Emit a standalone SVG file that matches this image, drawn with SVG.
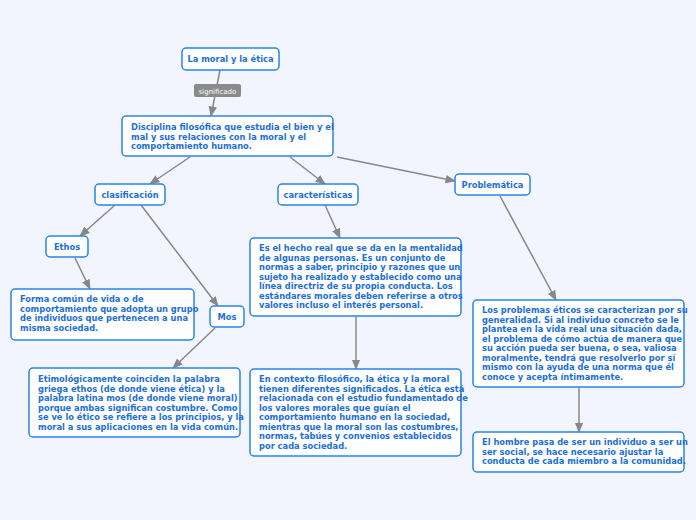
<svg xmlns="http://www.w3.org/2000/svg" width="696" height="520" viewBox="0 0 696 520">
<style>
.n{fill:#fff;stroke:#2a84e6;stroke-width:1.5}
.t{font-family:"DejaVu Sans",sans-serif;font-weight:bold;font-size:8.3px;fill:#1d6fd6}
.c{fill:none;stroke:#888;stroke-width:1.5;marker-end:url(#a)}
</style>
<defs><marker id="a" viewBox="0 0 10 10" refX="9" refY="5" markerWidth="7" markerHeight="7" orient="auto"><path d="M0,1L10,5L0,9z" fill="#888"/></marker></defs>
<rect width="696" height="520" fill="#f2f5fd"/>
<g id="connectors">
<path class="c" d="M220,70L211,116"/>
<path class="c" d="M190,157L150,184"/>
<path class="c" d="M290,157L325,184"/>
<path class="c" d="M337,157L455,181"/>
<path class="c" d="M115,205L80,236"/>
<path class="c" d="M141,205L218,306"/>
<path class="c" d="M75,258L90,289"/>
<path class="c" d="M215,328L173,368"/>
<path class="c" d="M325,205L340,238"/>
<path class="c" d="M356,317L356,369"/>
<path class="c" d="M500,196L556,300"/>
<path class="c" d="M579,388L579,432"/>
</g>
<g id="lbl"><rect x="194" y="84" width="47" height="13" rx="2" fill="#8a8a8a"/><text x="217.5" y="93.5" text-anchor="middle" font-family="DejaVu Sans,sans-serif" font-size="7px" fill="#fff">significado</text></g>
<g id="n1"><rect class="n" x="182" y="48" width="97" height="22" rx="4"/><text class="t" x="230.5" y="62" text-anchor="middle">La moral y la ética</text></g>
<g id="n2"><rect class="n" x="122" y="116" width="211" height="40" rx="4"/><text class="t" x="131"><tspan x="131" y="130">Disciplina filosófica que estudia el bien y el</tspan><tspan x="131" y="139.5">mal y sus relaciones con la moral y el</tspan><tspan x="131" y="149">comportamiento humano.</tspan></text></g>
<g id="n3"><rect class="n" x="95" y="184" width="70" height="21" rx="4"/><text class="t" x="130" y="198" text-anchor="middle">clasificación</text></g>
<g id="n4"><rect class="n" x="278" y="184" width="80" height="21" rx="4"/><text class="t" x="318" y="198" text-anchor="middle">características</text></g>
<g id="n5"><rect class="n" x="455" y="174" width="75" height="21" rx="4"/><text class="t" x="492.5" y="188" text-anchor="middle">Problemática</text></g>
<g id="n6"><rect class="n" x="46" y="236" width="42" height="21" rx="4"/><text class="t" x="67" y="250" text-anchor="middle">Ethos</text></g>
<g id="n7"><rect class="n" x="11" y="289" width="183" height="51" rx="4"/><text class="t"><tspan x="20" y="302">Forma común de vida o de</tspan><tspan x="20" y="311.5">comportamiento que adopta un grupo</tspan><tspan x="20" y="321">de individuos que pertenecen a una</tspan><tspan x="20" y="330.5">misma sociedad.</tspan></text></g>
<g id="n8"><rect class="n" x="210" y="306" width="34" height="21" rx="4"/><text class="t" x="227" y="320" text-anchor="middle">Mos</text></g>
<g id="n9"><rect class="n" x="29" y="368" width="211" height="69" rx="4"/><text class="t"><tspan x="38" y="382">Etimológicamente coinciden la palabra</tspan><tspan x="38" y="391.5">griega ethos (de donde viene ética) y la</tspan><tspan x="38" y="401">palabra latina mos (de donde viene moral)</tspan><tspan x="38" y="410.5">porque ambas significan costumbre. Como</tspan><tspan x="38" y="420">se ve lo ético se refiere a los principios, y la</tspan><tspan x="38" y="429.5">moral a sus aplicaciones en la vida común.</tspan></text></g>
<g id="n10"><rect class="n" x="250" y="238" width="211" height="78" rx="4"/><text class="t"><tspan x="259" y="251">Es el hecho real que se da en la mentalidad</tspan><tspan x="259" y="260.5">de algunas personas. Es un conjunto de</tspan><tspan x="259" y="270">normas a saber, principio y razones que un</tspan><tspan x="259" y="279.5">sujeto ha realizado y establecido como una</tspan><tspan x="259" y="289">línea directriz de su propia conducta. Los</tspan><tspan x="259" y="298.5">estándares morales deben referirse a otros</tspan><tspan x="259" y="308">valores incluso el interés personal.</tspan></text></g>
<g id="n11"><rect class="n" x="250" y="369" width="211" height="87" rx="4"/><text class="t"><tspan x="259" y="382">En contexto filosófico, la ética y la moral</tspan><tspan x="259" y="391.5">tienen diferentes significados. La ética está</tspan><tspan x="259" y="401">relacionada con el estudio fundamentado de</tspan><tspan x="259" y="410.5">los valores morales que guían el</tspan><tspan x="259" y="420">comportamiento humano en la sociedad,</tspan><tspan x="259" y="429.5">mientras que la moral son las costumbres,</tspan><tspan x="259" y="439">normas, tabúes y convenios establecidos</tspan><tspan x="259" y="448.5">por cada sociedad.</tspan></text></g>
<g id="n12"><rect class="n" x="473" y="300" width="211" height="87" rx="4"/><text class="t"><tspan x="482" y="313">Los problemas éticos se caracterizan por su</tspan><tspan x="482" y="322.5">generalidad. Si al individuo concreto se le</tspan><tspan x="482" y="332">plantea en la vida real una situación dada,</tspan><tspan x="482" y="341.5">el problema de cómo actúa de manera que</tspan><tspan x="482" y="351">su acción pueda ser buena, o sea, valiosa</tspan><tspan x="482" y="360.5">moralmente, tendrá que resolverlo por sí</tspan><tspan x="482" y="370">mismo con la ayuda de una norma que él</tspan><tspan x="482" y="379.5">conoce y acepta íntimamente.</tspan></text></g>
<g id="n13"><rect class="n" x="473" y="432" width="211" height="40" rx="4"/><text class="t"><tspan x="482" y="445">El hombre pasa de ser un individuo a ser un</tspan><tspan x="482" y="454.5">ser social, se hace necesario ajustar la</tspan><tspan x="482" y="464">conducta de cada miembro a la comunidad.</tspan></text></g>
</svg>
